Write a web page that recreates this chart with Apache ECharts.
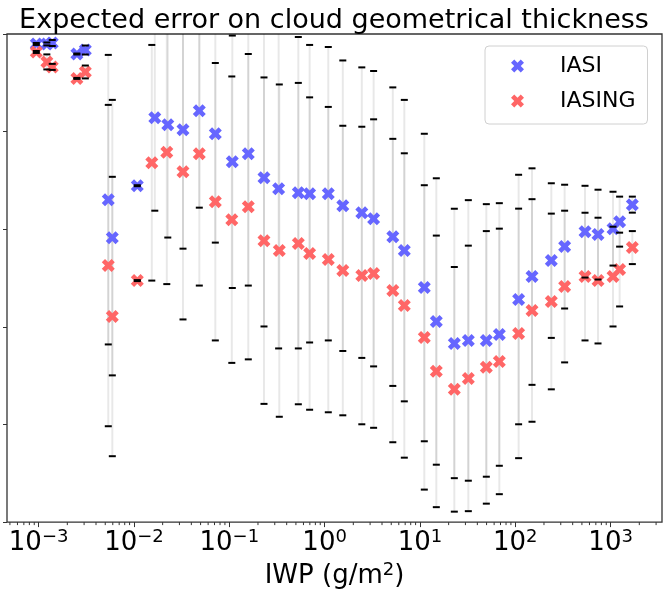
<!DOCTYPE html>
<html><head><meta charset="utf-8">
<script src="https://cdn.jsdelivr.net/npm/echarts@6/dist/echarts.min.js"></script>
<style>html,body{margin:0;padding:0;background:#fff}#c{width:668px;height:596px}</style>
</head><body><div id="c"></div>
<script>
// ---- data (IWP in g/m^2, error values in arbitrary units) ----
const iasiX = [0.000946, 0.00122, 0.00139, 0.00252, 0.00309, 0.00538, 0.00593, 0.01084, 0.01655, 0.02265,
  0.0327, 0.04848, 0.07138, 0.1076, 0.1583, 0.2313, 0.3293, 0.5299, 0.6963, 1.093,
  1.552, 2.456, 3.266, 5.193, 6.855, 11.11, 14.85, 22.94, 32.17, 49.69,
  68.02, 108.4, 149.8, 238.8, 329.4, 539.0, 737.9, 1060, 1243, 1690];
const iasiY = [4.898, 4.898, 4.908, 4.795, 4.836, 3.303, 2.914, 3.446, 4.141, 4.070,
  4.018, 4.213, 3.978, 3.691, 3.773, 3.528, 3.415, 3.374, 3.364, 3.364,
  3.241, 3.170, 3.108, 2.924, 2.781, 2.403, 2.055, 1.830, 1.861, 1.861,
  1.922, 2.280, 2.515, 2.679, 2.822, 2.975, 2.945, 3.006, 3.078, 3.252];
const iasiErr = [0.010, 0.015, 0.031, 0.005, 0.046, 1.483, 1.411, 0.005, 0.951, 1.155,
  1.217, 0.992, 1.115, 1.293, 1.350, 1.524, 1.636, 1.595, 1.524, 1.503,
  1.488, 1.488, 1.513, 1.529, 1.544, 1.575, 1.467, 1.380, 1.437, 1.396,
  1.345, 1.278, 1.109, 0.792, 0.634, 0.470, 0.460, 0.378, 0.256, 0.082];

const iasingX = [0.000946, 0.00122, 0.00139, 0.00252, 0.00309, 0.00538, 0.00593, 0.01084, 0.01539, 0.02211,
  0.0327, 0.04848, 0.07138, 0.1063, 0.1583, 0.2313, 0.3347, 0.5299, 0.6963, 1.093,
  1.552, 2.456, 3.266, 5.193, 6.855, 11.11, 14.85, 22.94, 32.17, 49.69,
  68.02, 108.4, 149.8, 238.8, 329.4, 539.0, 737.9, 1060, 1243, 1690];
const iasingY = [4.816, 4.714, 4.663, 4.545, 4.611, 2.628, 2.106, 2.474, 3.681, 3.788,
  3.589, 3.773, 3.282, 3.098, 3.231, 2.883, 2.781, 2.853, 2.751, 2.689,
  2.577, 2.526, 2.546, 2.372, 2.219, 1.892, 1.544, 1.360, 1.472, 1.585,
  1.646, 1.933, 2.168, 2.260, 2.413, 2.515, 2.474, 2.515, 2.587, 2.812];
const iasingErr = [0.010, 0.077, 0.031, 0.005, 0.066, 1.646, 1.431, 0.005, 1.207, 1.350,
  1.513, 1.350, 1.421, 1.467, 1.564, 1.672, 1.702, 1.646, 1.600, 1.564,
  1.483, 1.524, 1.580, 1.554, 1.559, 1.559, 1.391, 1.253, 1.360, 1.396,
  1.360, 1.278, 1.140, 0.900, 0.777, 0.654, 0.644, 0.511, 0.378, 0.169];

const seriesNames = ['IASI', 'IASING'];
const seriesColors = ['#6666ff', '#ff6666'];
const titleText = 'Expected error on cloud geometrical thickness';
const xMin = 0.000466, xMax = 3460;
const yMin = 0, yMax = 5;
const minorMultipliers = [2, 3, 4, 5, 6, 7, 8, 9];

// ---- build ----
const FONT = 'DejaVu Sans';
const X_SYMBOL = 'path://M-1,-2L0,-1L1,-2L2,-1L1,0L2,1L1,2L0,1L-1,2L-2,1L-1,0L-2,-1Z';

function zip3(xs, ys, es) { return xs.map((x, i) => [x, ys[i], es[i]]); }
const iasiData = zip3(iasiX, iasiY, iasiErr);
const iasingData = zip3(iasingX, iasingY, iasingErr);

const minorTicks = [];
for (let k = -4; k <= 3; k++) {
  for (const m of minorMultipliers) {
    const v = m * Math.pow(10, k);
    if (v > xMin && v < xMax) minorTicks.push([v, yMin]);
  }
}

function barRender(params, api) {
  const cs = params.coordSys;
  const x = api.value(0), y = api.value(1), e = api.value(2);
  const top = api.coord([x, y + e]);
  const bot = api.coord([x, y - e]);
  const y1 = Math.max(top[1], cs.y);
  const y2 = Math.min(bot[1], cs.y + cs.height);
  if (y2 <= y1) return null;
  return {
    type: 'line',
    shape: { x1: top[0], y1: y1, x2: top[0], y2: y2 },
    style: { stroke: 'rgba(0,0,0,0.09)', lineWidth: 2 }
  };
}
function capRender(params, api) {
  const cs = params.coordSys;
  const x = api.value(0), y = api.value(1), e = api.value(2);
  const children = [];
  for (const v of [y + e, y - e]) {
    const p = api.coord([x, v]);
    if (p[1] >= cs.y - 0.5 && p[1] <= cs.y + cs.height + 0.5) {
      children.push({
        type: 'line',
        shape: { x1: p[0] - 3.5, y1: p[1], x2: p[0] + 3.5, y2: p[1] },
        style: { stroke: '#000', lineWidth: 2 }
      });
    }
  }
  return { type: 'group', children: children };
}
function minorTickRender(params, api) {
  const cs = params.coordSys;
  const p = api.coord([api.value(0), api.value(1)]);
  const b = cs.y + cs.height;
  return {
    type: 'line',
    shape: { x1: p[0], y1: b, x2: p[0], y2: b + 3 },
    style: { stroke: '#333', lineWidth: 1 }
  };
}

const chart = echarts.init(document.getElementById('c'), null, { renderer: 'canvas' });
chart.setOption({
  animation: false,
  backgroundColor: '#fff',
  title: {
    text: titleText, left: 'center', top: 2,
    textStyle: { fontFamily: FONT, fontSize: 27, fontWeight: 'normal', color: '#000' }
  },
  legend: {
    data: seriesNames,
    orient: 'vertical',
    left: 485, top: 46,
    padding: [7, 12, 10, 26],
    itemWidth: 13, itemHeight: 13, itemGap: 9,
    backgroundColor: 'rgba(255,255,255,0.8)',
    borderColor: '#d0d0d0', borderWidth: 1, borderRadius: 4,
    textStyle: { fontFamily: FONT, fontSize: 22, color: '#000', lineHeight: 26, padding: [0, 0, 0, 31] }
  },
  grid: {
    left: 7, right: 6, top: 34, bottom: 73,
    show: true, borderColor: '#333', borderWidth: 1.3, backgroundColor: 'transparent'
  },
  xAxis: {
    type: 'log', logBase: 10, min: xMin, max: xMax,
    axisLine: { show: false },
    axisTick: { show: true, inside: false, length: 5, lineStyle: { color: '#333', width: 1 } },
    splitLine: { show: false },
    minorTick: { show: false },
    axisLabel: {
      showMinLabel: false, showMaxLabel: false, margin: 6,
      formatter: function (v) {
        const e = Math.log10(v), r = Math.round(e);
        if (Math.abs(e - r) > 1e-6) return '';
        return '{b|10}{s|' + (r < 0 ? '\u2212' : '') + Math.abs(r) + '}';
      },
      rich: {
        b: { fontFamily: FONT, fontSize: 26, color: '#000', lineHeight: 30 },
        s: { fontFamily: FONT, fontSize: 18, color: '#000', lineHeight: 16, verticalAlign: 'top' }
      }
    },
    name: 'IWP (g/m{s|2})',
    nameLocation: 'middle', nameGap: 34,
    nameTextStyle: {
      fontFamily: FONT, fontSize: 26, color: '#000', lineHeight: 30,
      rich: { s: { fontFamily: FONT, fontSize: 18, color: '#000', lineHeight: 18, verticalAlign: 'top' } }
    }
  },
  yAxis: {
    type: 'value', min: yMin, max: yMax, interval: 1,
    axisLine: { show: false },
    axisTick: { show: true, inside: false, length: 4, lineStyle: { color: '#333' } },
    axisLabel: { show: false },
    splitLine: { show: false }
  },
  series: [
    { type: 'custom', name: 'iasi-bars', silent: true, z: 1, renderItem: barRender, data: iasiData, encode: { x: 0, y: 1 } },
    { type: 'custom', name: 'iasing-bars', silent: true, z: 1, renderItem: barRender, data: iasingData, encode: { x: 0, y: 1 } },
    { type: 'scatter', name: seriesNames[0], z: 2, symbol: X_SYMBOL, symbolSize: 13,
      itemStyle: { color: seriesColors[0], opacity: 1 }, data: iasiData.map(d => [d[0], d[1]]) },
    { type: 'scatter', name: seriesNames[1], z: 3, symbol: X_SYMBOL, symbolSize: 13,
      itemStyle: { color: seriesColors[1], opacity: 1 }, data: iasingData.map(d => [d[0], d[1]]) },
    { type: 'custom', name: 'iasi-caps', silent: true, z: 4, renderItem: capRender, data: iasiData, encode: { x: 0, y: 1 } },
    { type: 'custom', name: 'iasing-caps', silent: true, z: 4, renderItem: capRender, data: iasingData, encode: { x: 0, y: 1 } },
    { type: 'custom', name: 'minor-ticks', silent: true, z: 5, renderItem: minorTickRender, data: minorTicks, encode: { x: 0, y: 1 } }
  ]
});
</script>
</body></html>
